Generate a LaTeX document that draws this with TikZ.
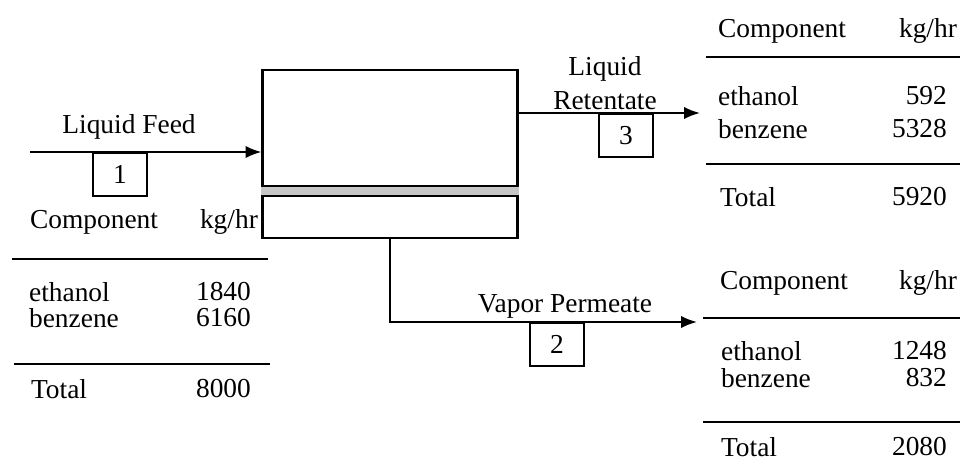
\documentclass[tikz,border=0pt]{standalone}
\usepackage{fontspec}
\setmainfont{Liberation Serif}
\usepackage{tikz}
\usetikzlibrary{arrows.meta, positioning, calc}
\tikzset{
  txt/.style      = {inner sep=1pt, font=\fontsize{15.6}{18}\selectfont},
  numbox/.style   = {draw, line width=1pt, minimum width=1.07cm, minimum height=0.86cm,
                     anchor=north, inner sep=0pt, font=\fontsize{15.6}{18}\selectfont},
  flow/.style     = {-{Latex[length=9pt, width=7pt]}, line width=1.2pt},
  rule/.style     = {line width=1.4pt},
  unitbox/.style  = {draw, line width=1.2pt, minimum width=5.1cm, minimum height=3.36cm,
                     inner sep=0pt},
}

\begin{document}
\begin{tikzpicture}[x=0.02cm, y=-0.02cm]
  \useasboundingbox (0,0) rectangle (960,462);

  % membrane unit
  \node[unitbox] (unit) at (390,154) {};
  \fill[gray!45] (unit.west |- 0,186) rectangle (unit.east |- 0,196);
  \draw[rule] (unit.west |- 0,186) -- (unit.east |- 0,186);
  \draw[rule] (unit.west |- 0,196) -- (unit.east |- 0,196);

  % stream 1: liquid feed
  \coordinate (feedin) at (30,152);
  \draw[flow] (feedin) -- (unit.west |- feedin);
  \node[txt] (feedlbl) at (129,127) {Liquid Feed};
  \node[numbox] (s1) at (120,152) {1};

  % stream 3: liquid retentate
  \coordinate (retout) at (700,113);
  \draw[flow] (unit.east |- retout) -- (retout);
  \node[txt, align=center, anchor=south, font=\fontsize{15.6}{19.5}\selectfont] (retlbl) at (605,112) {Liquid\\Retentate};
  \node[numbox] (s3) at (626,113) {3};

  % stream 2: vapor permeate
  \coordinate (permout) at (697,322);
  \draw[flow] (unit.south -| 390,0) |- (permout);
  \node[txt, anchor=south] (permlbl) at (565,320) {Vapor Permeate};
  \node[numbox] (s2) at (557,322) {2};

  % table: feed
  \node[txt, anchor=west] (fcomp) at (28,222) {Component};
  \node[txt, anchor=east] (funit) at (260,222) {kg/hr};
  \draw[rule] (12,259) -- (268,259);
  \node[txt, anchor=west] (feth) at (27,292) {ethanol};
  \node[txt, anchor=east] (fethv) at (253,292) {1840};
  \node[txt, anchor=west] (fben) at (27,318) {benzene};
  \node[txt, anchor=east] (fbenv) at (253,318) {6160};
  \draw[rule] (14,364) -- (270,364);
  \node[txt, anchor=west] (ftot) at (29,389) {Total};
  \node[txt, anchor=east] (ftotv) at (253,389) {8000};

  % table: retentate
  \node[txt, anchor=west] (rcomp) at (716,31) {Component};
  \node[txt, anchor=east] (runit) at (959,31) {kg/hr};
  \draw[rule] (706,57) -- (960,57);
  \node[txt, anchor=west] (reth) at (716,96) {ethanol};
  \node[txt, anchor=east] (rethv) at (949,96) {592};
  \node[txt, anchor=west] (rben) at (716,129) {benzene};
  \node[txt, anchor=east] (rbenv) at (949,129) {5328};
  \draw[rule] (706,164) -- (960,164);
  \node[txt, anchor=west] (rtot) at (718,197) {Total};
  \node[txt, anchor=east] (rtotv) at (949,197) {5920};

  % table: permeate
  \node[txt, anchor=west] (pcomp) at (718,283) {Component};
  \node[txt, anchor=east] (punit) at (959,283) {kg/hr};
  \draw[rule] (703,318) -- (960,318);
  \node[txt, anchor=west] (peth) at (719,351) {ethanol};
  \node[txt, anchor=east] (pethv) at (949,351) {1248};
  \node[txt, anchor=west] (pben) at (719,378) {benzene};
  \node[txt, anchor=east] (pbenv) at (949,378) {832};
  \draw[rule] (703,422) -- (960,422);
  \node[txt, anchor=west] (ptot) at (719,447) {Total};
  \node[txt, anchor=east] (ptotv) at (949,447) {2080};
\end{tikzpicture}
\end{document}
